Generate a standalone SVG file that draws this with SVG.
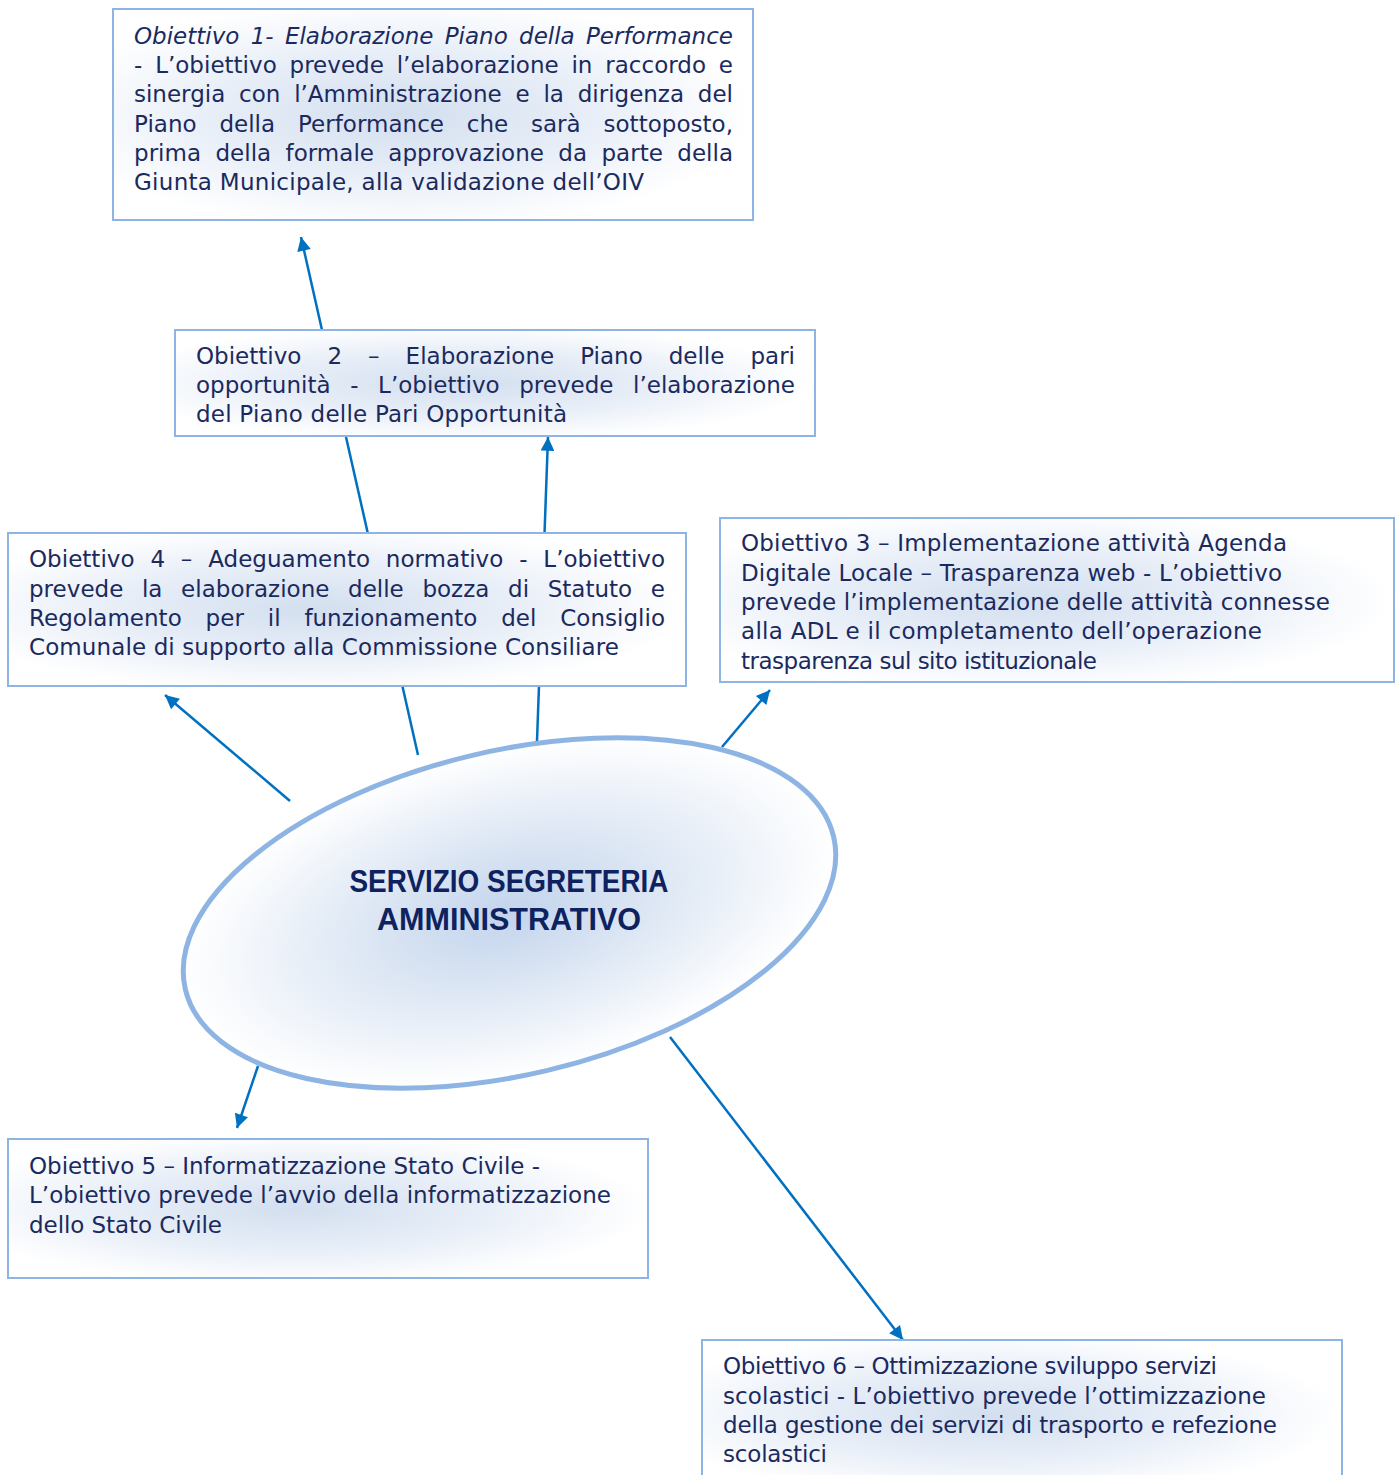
<svg xmlns="http://www.w3.org/2000/svg" width="1398" height="1475" viewBox="0 0 1398 1475">
  <defs>
    <style>
      .box { stroke: #8EB4E3; stroke-width: 2; fill: url(#haze); }
      .txt { font-family: "DejaVu Sans", "Liberation Sans", sans-serif; font-size: 23px; fill: #1B2A5E; }
      .it { font-style: italic; }
      .title { font-family: "Liberation Sans", Arial, sans-serif; font-size: 31px; font-weight: bold; fill: #0F2260; text-anchor: middle; }
      .conn { stroke: #0070C0; stroke-width: 2.5; fill: none; }
      .arr { marker-end: url(#head); }
    </style>
    <radialGradient id="haze" cx="0.45" cy="0.5" r="0.55">
      <stop offset="0" stop-color="#D3DFEF"/>
      <stop offset="0.5" stop-color="#E6EDF7"/>
      <stop offset="1" stop-color="#FFFFFF"/>
    </radialGradient>
    <radialGradient id="core" cx="0.5" cy="0.5" r="0.5">
      <stop offset="0" stop-color="#C2D4EC"/>
      <stop offset="0.55" stop-color="#E3EBF6"/>
      <stop offset="1" stop-color="#FFFFFF"/>
    </radialGradient>
    <marker id="head" viewBox="0 0 10 10" refX="10" refY="5" markerWidth="7" markerHeight="5.5" markerUnits="strokeWidth" orient="auto">
      <path d="M0,0 L10,5 L0,10 z" fill="#0070C0"/>
    </marker>
  </defs>

  <!-- connectors -->
  <g id="connectors">
    <line class="conn arr" x1="322" y1="330" x2="301" y2="237"/>
    <line class="conn" x1="418" y1="755" x2="346" y2="437"/>
    <line class="conn arr" x1="537" y1="741" x2="548" y2="437"/>
    <line class="conn arr" x1="290" y1="801" x2="165" y2="695"/>
    <line class="conn arr" x1="722" y1="747" x2="770" y2="690"/>
    <line class="conn arr" x1="258" y1="1066" x2="237" y2="1128"/>
    <line class="conn arr" x1="670" y1="1037" x2="903" y2="1340"/>
  </g>

  <!-- objective 1 (justified) -->
  <g id="obiettivo1">
    <rect class="box" x="113" y="9" width="640" height="211"/>
    <text class="txt it" x="134" y="44" word-spacing="4" textLength="599" lengthAdjust="spacing">Obiettivo 1- Elaborazione Piano della Performance</text>
    <text class="txt" x="134" y="73" word-spacing="5.5" textLength="599" lengthAdjust="spacing">- L’obiettivo prevede l’elaborazione in raccordo e</text>
    <text class="txt" x="134" y="102" word-spacing="6.5" textLength="599" lengthAdjust="spacing">sinergia con l’Amministrazione e la dirigenza del</text>
    <text class="txt" x="134" y="132" word-spacing="15.4" textLength="599" lengthAdjust="spacing">Piano della Performance che sarà sottoposto,</text>
    <text class="txt" x="134" y="161" word-spacing="7" textLength="599" lengthAdjust="spacing">prima della formale approvazione da parte della</text>
    <text class="txt" x="134" y="190" textLength="510" lengthAdjust="spacing">Giunta Municipale, alla validazione dell’OIV</text>
  </g>

  <!-- objective 2 (justified) -->
  <g id="obiettivo2">
    <rect class="box" x="175" y="330" width="640" height="106"/>
    <text class="txt" x="196" y="364" word-spacing="18.7" textLength="599" lengthAdjust="spacing">Obiettivo 2 – Elaborazione Piano delle pari</text>
    <text class="txt" x="196" y="393" word-spacing="12.3" textLength="599" lengthAdjust="spacing">opportunità - L’obiettivo prevede l’elaborazione</text>
    <text class="txt" x="196" y="422" textLength="371" lengthAdjust="spacing">del Piano delle Pari Opportunità</text>
  </g>

  <!-- objective 4 (justified) -->
  <g id="obiettivo4">
    <rect class="box" x="8" y="533" width="678" height="153"/>
    <text class="txt" x="29" y="567" word-spacing="8.5" textLength="636" lengthAdjust="spacing">Obiettivo 4 – Adeguamento normativo - L’obiettivo</text>
    <text class="txt" x="29" y="597" word-spacing="11.3" textLength="636" lengthAdjust="spacing">prevede la elaborazione delle bozza di Statuto e</text>
    <text class="txt" x="29" y="626" word-spacing="16.5" textLength="636" lengthAdjust="spacing">Regolamento per il funzionamento del Consiglio</text>
    <text class="txt" x="29" y="655" textLength="590" lengthAdjust="spacing">Comunale di supporto alla Commissione Consiliare</text>
  </g>

  <!-- objective 3 -->
  <g id="obiettivo3">
    <rect class="box" x="720" y="518" width="674" height="164"/>
    <text class="txt" x="741" y="551" textLength="546" lengthAdjust="spacing">Obiettivo 3 – Implementazione attività Agenda</text>
    <text class="txt" x="741" y="581" textLength="541" lengthAdjust="spacing">Digitale Locale – Trasparenza web - L’obiettivo</text>
    <text class="txt" x="741" y="610" textLength="589" lengthAdjust="spacing">prevede l’implementazione delle attività connesse</text>
    <text class="txt" x="741" y="639" textLength="521" lengthAdjust="spacing">alla ADL e il completamento dell’operazione</text>
    <text class="txt" x="741" y="669" textLength="356" lengthAdjust="spacing">trasparenza sul sito istituzionale</text>
  </g>

  <!-- central service -->
  <g id="servizio">
    <ellipse cx="509.5" cy="913" rx="333" ry="162" transform="rotate(-13.25 509.5 913)" fill="url(#core)" stroke="#8EB4E3" stroke-width="5"/>
    <text class="title" x="509" y="892" textLength="319" lengthAdjust="spacingAndGlyphs">SERVIZIO SEGRETERIA</text>
    <text class="title" x="509" y="930" textLength="264" lengthAdjust="spacingAndGlyphs">AMMINISTRATIVO</text>
  </g>

  <!-- objective 5 -->
  <g id="obiettivo5">
    <rect class="box" x="8" y="1139" width="640" height="139"/>
    <text class="txt" x="29" y="1174" textLength="511" lengthAdjust="spacing">Obiettivo 5 – Informatizzazione Stato Civile  -</text>
    <text class="txt" x="29" y="1203" textLength="582" lengthAdjust="spacing">L’obiettivo prevede l’avvio della informatizzazione</text>
    <text class="txt" x="29" y="1233" textLength="193" lengthAdjust="spacing">dello Stato Civile</text>
  </g>

  <!-- objective 6 -->
  <g id="obiettivo6">
    <rect class="box" x="702" y="1340" width="640" height="150"/>
    <text class="txt" x="723" y="1374" textLength="494" lengthAdjust="spacing">Obiettivo 6 – Ottimizzazione sviluppo servizi</text>
    <text class="txt" x="723" y="1404" textLength="543" lengthAdjust="spacing">scolastici  - L’obiettivo prevede l’ottimizzazione</text>
    <text class="txt" x="723" y="1433" textLength="554" lengthAdjust="spacing">della gestione dei servizi di trasporto e refezione</text>
    <text class="txt" x="723" y="1462" textLength="104" lengthAdjust="spacing">scolastici</text>
  </g>
</svg>
